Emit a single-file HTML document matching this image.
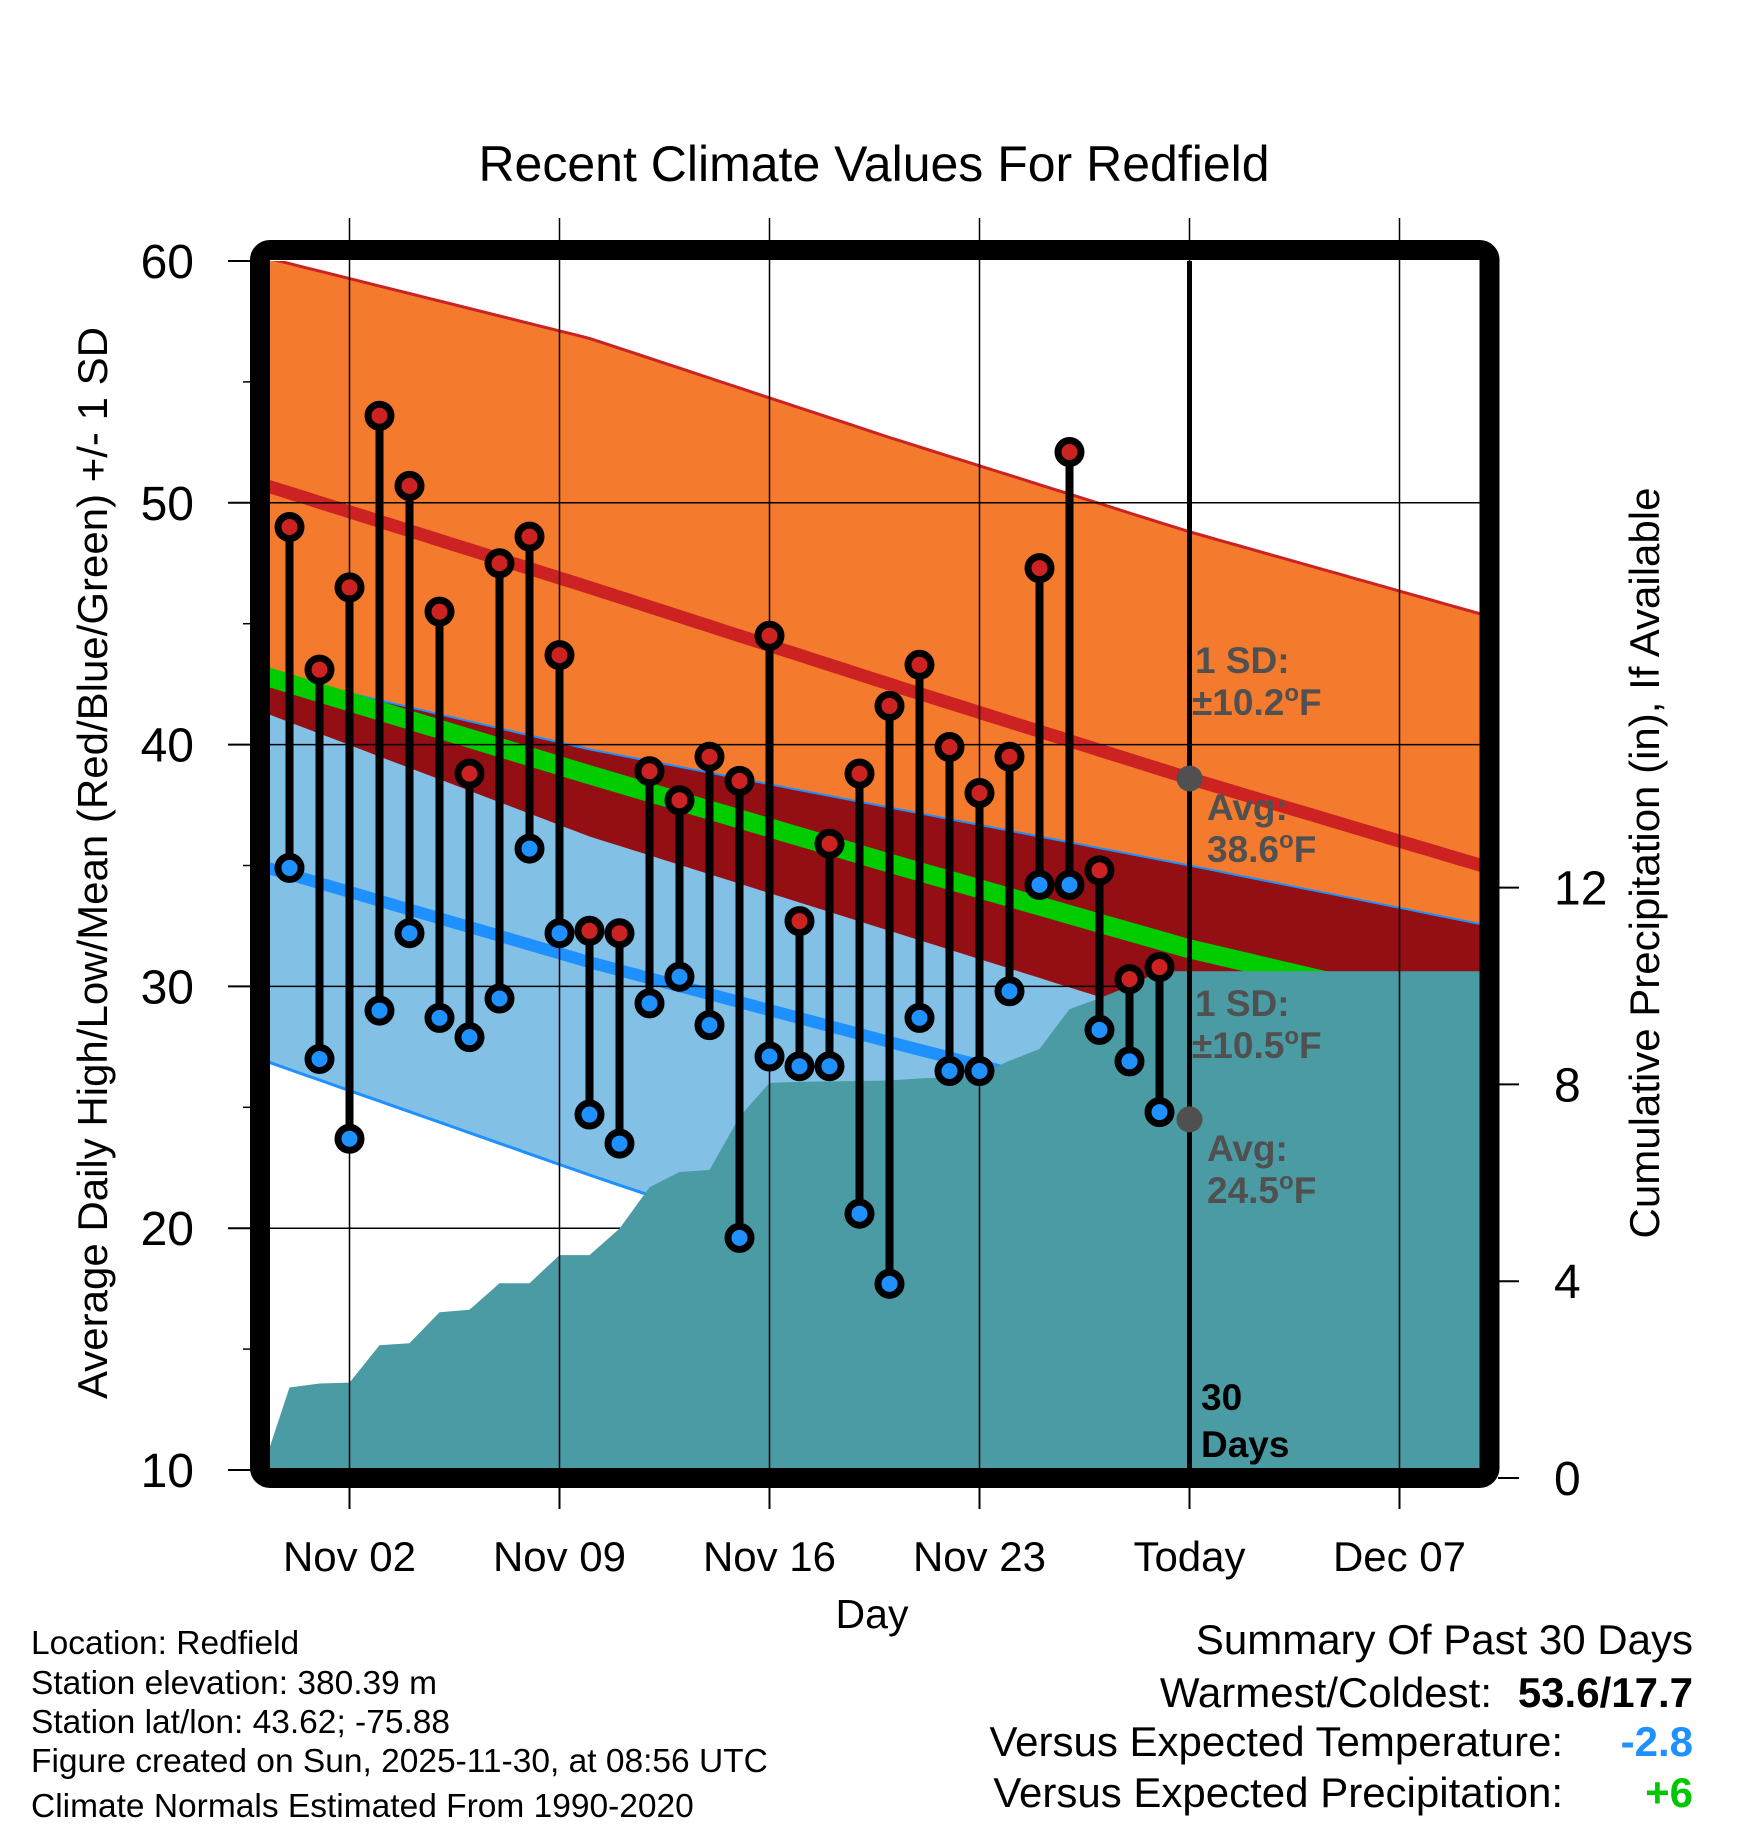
<!DOCTYPE html>
<html><head><meta charset="utf-8"><title>Recent Climate Values For Redfield</title>
<style>
html,body{margin:0;padding:0;background:#fff;}
svg{display:block;font-family:"Liberation Sans",Arial,sans-serif;}
</style></head>
<body>
<svg id="chart" width="1748" height="1828" viewBox="0 0 1748 1828" xmlns="http://www.w3.org/2000/svg">
<defs><clipPath id="plotClip"><rect x="270" y="261" width="1210" height="1207"/></clipPath></defs>
<rect width="1748" height="1828" fill="#fff"/>
<text x="874" y="181" font-size="50" text-anchor="middle">Recent Climate Values For Redfield</text>
<g id="plot" clip-path="url(#plotClip)"></g>
<g id="over"></g>
<rect x="260" y="250" width="1229.5" height="1228" rx="10" fill="none" stroke="#000" stroke-width="20"/>
<g id="axes"></g>
<text transform="translate(107,863) rotate(-90)" font-size="42" text-anchor="middle">Average Daily High/Low/Mean (Red/Blue/Green) +/- 1 SD</text>
<text transform="translate(1659,863) rotate(-90)" font-size="42" text-anchor="middle">Cumulative Precipitation (in), If Available</text>
<text x="872" y="1628" font-size="41" text-anchor="middle">Day</text>
<g font-size="33.5">
<text x="31" y="1654">Location: Redfield</text>
<text x="31" y="1694">Station elevation: 380.39 m</text>
<text x="31" y="1733">Station lat/lon: 43.62; -75.88</text>
<text x="31" y="1772">Figure created on Sun, 2025-11-30, at 08:56 UTC</text>
<text x="31" y="1817">Climate Normals Estimated From 1990-2020</text>
</g>
<g font-size="42">
<text x="1693" y="1654" text-anchor="end">Summary Of Past 30 Days</text>
<text x="1492" y="1707" text-anchor="end">Warmest/Coldest:</text>
<text x="1693" y="1707" text-anchor="end" font-weight="bold">53.6/17.7</text>
<text x="1563" y="1756" text-anchor="end">Versus Expected Temperature:</text>
<text x="1693" y="1756" text-anchor="end" font-weight="bold" fill="#1e90ff">-2.8</text>
<text x="1563" y="1807" text-anchor="end">Versus Expected Precipitation:</text>
<text x="1693" y="1807" text-anchor="end" font-weight="bold" fill="#00c800">+6</text>
</g>
</svg>
<script>
// ---- data ----
const obsDays = [0,1,2,3,4,5,6,7,8,9,10,11,12,13,14,15,16,17,18,19,20,21,22,23,24,25,26,27,28,29];
const highs = [49.0,43.1,46.5,53.6,50.7,45.5,38.8,47.5,48.6,43.7,32.3,32.2,38.9,37.7,39.5,38.5,44.5,32.7,35.9,38.8,41.6,43.3,39.9,38.0,39.5,47.3,52.1,34.8,30.3,30.8];
const lows = [34.9,27.0,23.7,29.0,32.2,28.7,27.9,29.5,35.7,32.2,24.7,23.5,29.3,30.4,28.4,19.6,27.1,26.7,26.7,20.6,17.7,28.7,26.5,26.5,29.8,34.2,34.2,28.2,26.9,24.8];
const normDays = [-1,10,20,30,40];
const highAvg = [50.8,46.5,42.5,38.6,34.9];
const highSD = [9.4,10.3,10.2,10.2,10.4];
const lowAvg = [35.0,31.0,27.7,24.5,22.4];
const lowSD = [8.0,8.8,9.7,10.5,10.1];
const precipDays = [-1,0,1,2,3,4,5,6,7,8,9,10,11,12,13,14,15,16,17,18,19,20,21,22,23,24,25,26,27,28,29,30,41];
const precipCum = [0,1.84,1.92,1.94,2.70,2.74,3.37,3.42,3.96,3.96,4.53,4.53,5.07,5.91,6.22,6.26,7.34,8.03,8.05,8.06,8.07,8.08,8.12,8.15,8.20,8.48,8.72,9.53,9.75,10.0,10.3,10.3,10.3];
const xTickDays = [2,9,16,23,30,37];
const xTickLabels = ["Nov 02","Nov 09","Nov 16","Nov 23","Today","Dec 07"];
const yTicks = [10,20,30,40,50,60];
const y2Ticks = [0,4,8,12];
const todayDay = 30;

// ---- scales ----
const X = d => 349.5 + (d - 2) * 30;
const Y = v => 1470 - (v - 10) * 24.18;
const YP = p => 1478 - p * 49.2;
const NS = "http://www.w3.org/2000/svg";
function mk(tag, attrs, parent){ const e=document.createElementNS(NS,tag); for(const k in attrs) e.setAttribute(k,attrs[k]); parent.appendChild(e); return e; }
function interp(xs, ys, d){ if(d<=xs[0]) return ys[0]; for(let i=1;i<xs.length;i++){ if(d<=xs[i]){ const t=(d-xs[i-1])/(xs[i]-xs[i-1]); return ys[i-1]+t*(ys[i]-ys[i-1]); } } return ys[ys.length-1]; }
const plot = document.getElementById('plot');
const over = document.getElementById('over');
const axes = document.getElementById('axes');
const samples = []; for(let d=-1; d<=40.001; d+=0.5) samples.push(d);
const hA = d=>interp(normDays,highAvg,d), hS=d=>interp(normDays,highSD,d), lA=d=>interp(normDays,lowAvg,d), lS=d=>interp(normDays,lowSD,d);
function linePts(f){ return samples.map(d=>X(d).toFixed(1)+","+Y(f(d)).toFixed(1)); }
function band(fTop,fBot){ return linePts(fTop).concat(linePts(fBot).reverse()).join(" "); }

let e;
e = mk('polygon',{points:band(d=>hA(d)+hS(d), d=>hA(d)-hS(d)), fill:'#f47a2e'},plot);
 
e = mk('polygon',{points:band(d=>lA(d)+lS(d), d=>lA(d)-lS(d)), fill:'#82c0e6'},plot);
 
e = mk('polygon',{points:band(d=>lA(d)+lS(d), d=>hA(d)-hS(d)), fill:'#930f14'},plot);
 
e = mk('polyline',{points:linePts(d=>hA(d)+hS(d)).join(" "), fill:'none', stroke:'#cc2222','stroke-width':3},plot);
 
e = mk('polyline',{points:linePts(d=>lA(d)+lS(d)).join(" "), fill:'none', stroke:'#1e90ff','stroke-width':2},plot);
 
e = mk('polyline',{points:linePts(d=>lA(d)-lS(d)).join(" "), fill:'none', stroke:'#1e90ff','stroke-width':3},plot);
 
e = mk('polyline',{points:linePts(d=>(hA(d)+lA(d))/2).join(" "), fill:'none', stroke:'#00cc00','stroke-width':19},plot);
 
e = mk('polyline',{points:linePts(hA).join(" "), fill:'none', stroke:'#cc2222','stroke-width':13},plot);
 
e = mk('polyline',{points:linePts(lA).join(" "), fill:'none', stroke:'#1e90ff','stroke-width':12},plot);
 
yTicks.forEach(v=>{ if(v>10&&v<60){ e=mk('line',{x1:270,x2:1480,y1:Y(v),y2:Y(v),stroke:'#000','stroke-width':1.5},plot);
   }});
xTickDays.forEach(d=>{ e=mk('line',{x1:X(d),x2:X(d),y1:218,y2:1468,stroke:'#000','stroke-width':1.5},over);
   });
const pp = precipDays.map((d,i)=>X(d).toFixed(1)+","+YP(precipCum[i]).toFixed(1));
pp.push(X(41)+","+YP(0)); pp.push(X(-1)+","+YP(0));
e = mk('polygon',{points:pp.join(" "), fill:'#4a9ba4'},plot);
 
e = mk('line',{x1:X(todayDay),x2:X(todayDay),y1:261,y2:1468,stroke:'#000','stroke-width':5},over);
 
e = mk('circle',{cx:X(todayDay),cy:Y(hA(todayDay)),r:13,fill:'#505050'},over);
 
e = mk('circle',{cx:X(todayDay),cy:Y(lA(todayDay)),r:13,fill:'#505050'},over);
 
obsDays.forEach((d,i)=>{
  const x=X(d);
  e=mk('line',{x1:x,x2:x,y1:Y(highs[i]),y2:Y(lows[i]),stroke:'#000','stroke-width':8},over);
   
  e=mk('circle',{cx:x,cy:Y(highs[i]),r:11.5,fill:'#cc2222',stroke:'#000','stroke-width':7},over);
   
  e=mk('circle',{cx:x,cy:Y(lows[i]),r:11.5,fill:'#1e90ff',stroke:'#000','stroke-width':7},over);
   
});
const ann=[["1 SD:",1195,673,"#505050",""],["\u00B110.2",1192,715,"#505050","F"],["Avg:",1207,820,"#505050",""],["38.6",1207,862,"#505050","F"],
["1 SD:",1195,1016,"#505050",""],["\u00B110.5",1192,1058,"#505050","F"],["Avg:",1207,1161,"#505050",""],["24.5",1207,1203,"#505050","F"],
["30",1201,1410,"#000",""],["Days",1201,1457,"#000",""]];
ann.forEach(a=>{ e=mk('text',{x:a[1],y:a[2],'font-size':37,'font-weight':'bold',fill:a[3]},over);
  
 e.appendChild(document.createTextNode(a[0]));
 if(a[4]){ const s=mk('tspan',{dy:-14,'font-size':24},e); s.textContent='o';
   const f=mk('tspan',{dy:14},e); f.textContent=a[4]; }
});
yTicks.forEach(v=>{ e=mk('line',{x1:228,x2:252,y1:Y(v),y2:Y(v),stroke:'#000','stroke-width':2},axes);
  
 e=mk('text',{x:194,y:Y(v)+17,'font-size':48,'text-anchor':'end'},axes); e.textContent=String(v);
   });
[15,25,35,45,55].forEach(v=>{ e=mk('line',{x1:243,x2:252,y1:Y(v),y2:Y(v),stroke:'#000','stroke-width':1.5},axes);
   });
y2Ticks.forEach(p=>{ e=mk('line',{x1:1498,x2:1519,y1:YP(p),y2:YP(p),stroke:'#000','stroke-width':2},axes);
  
 e=mk('text',{x:1554,y:YP(p)+17,'font-size':48},axes); e.textContent=String(p);
   });
xTickDays.forEach((d,i)=>{ e=mk('line',{x1:X(d),x2:X(d),y1:1488,y2:1509,stroke:'#000','stroke-width':2},axes);
  
 e=mk('text',{x:X(d),y:1571,'font-size':42,'text-anchor':'middle'},axes); e.textContent=xTickLabels[i];
   });
</script>
</body></html>
